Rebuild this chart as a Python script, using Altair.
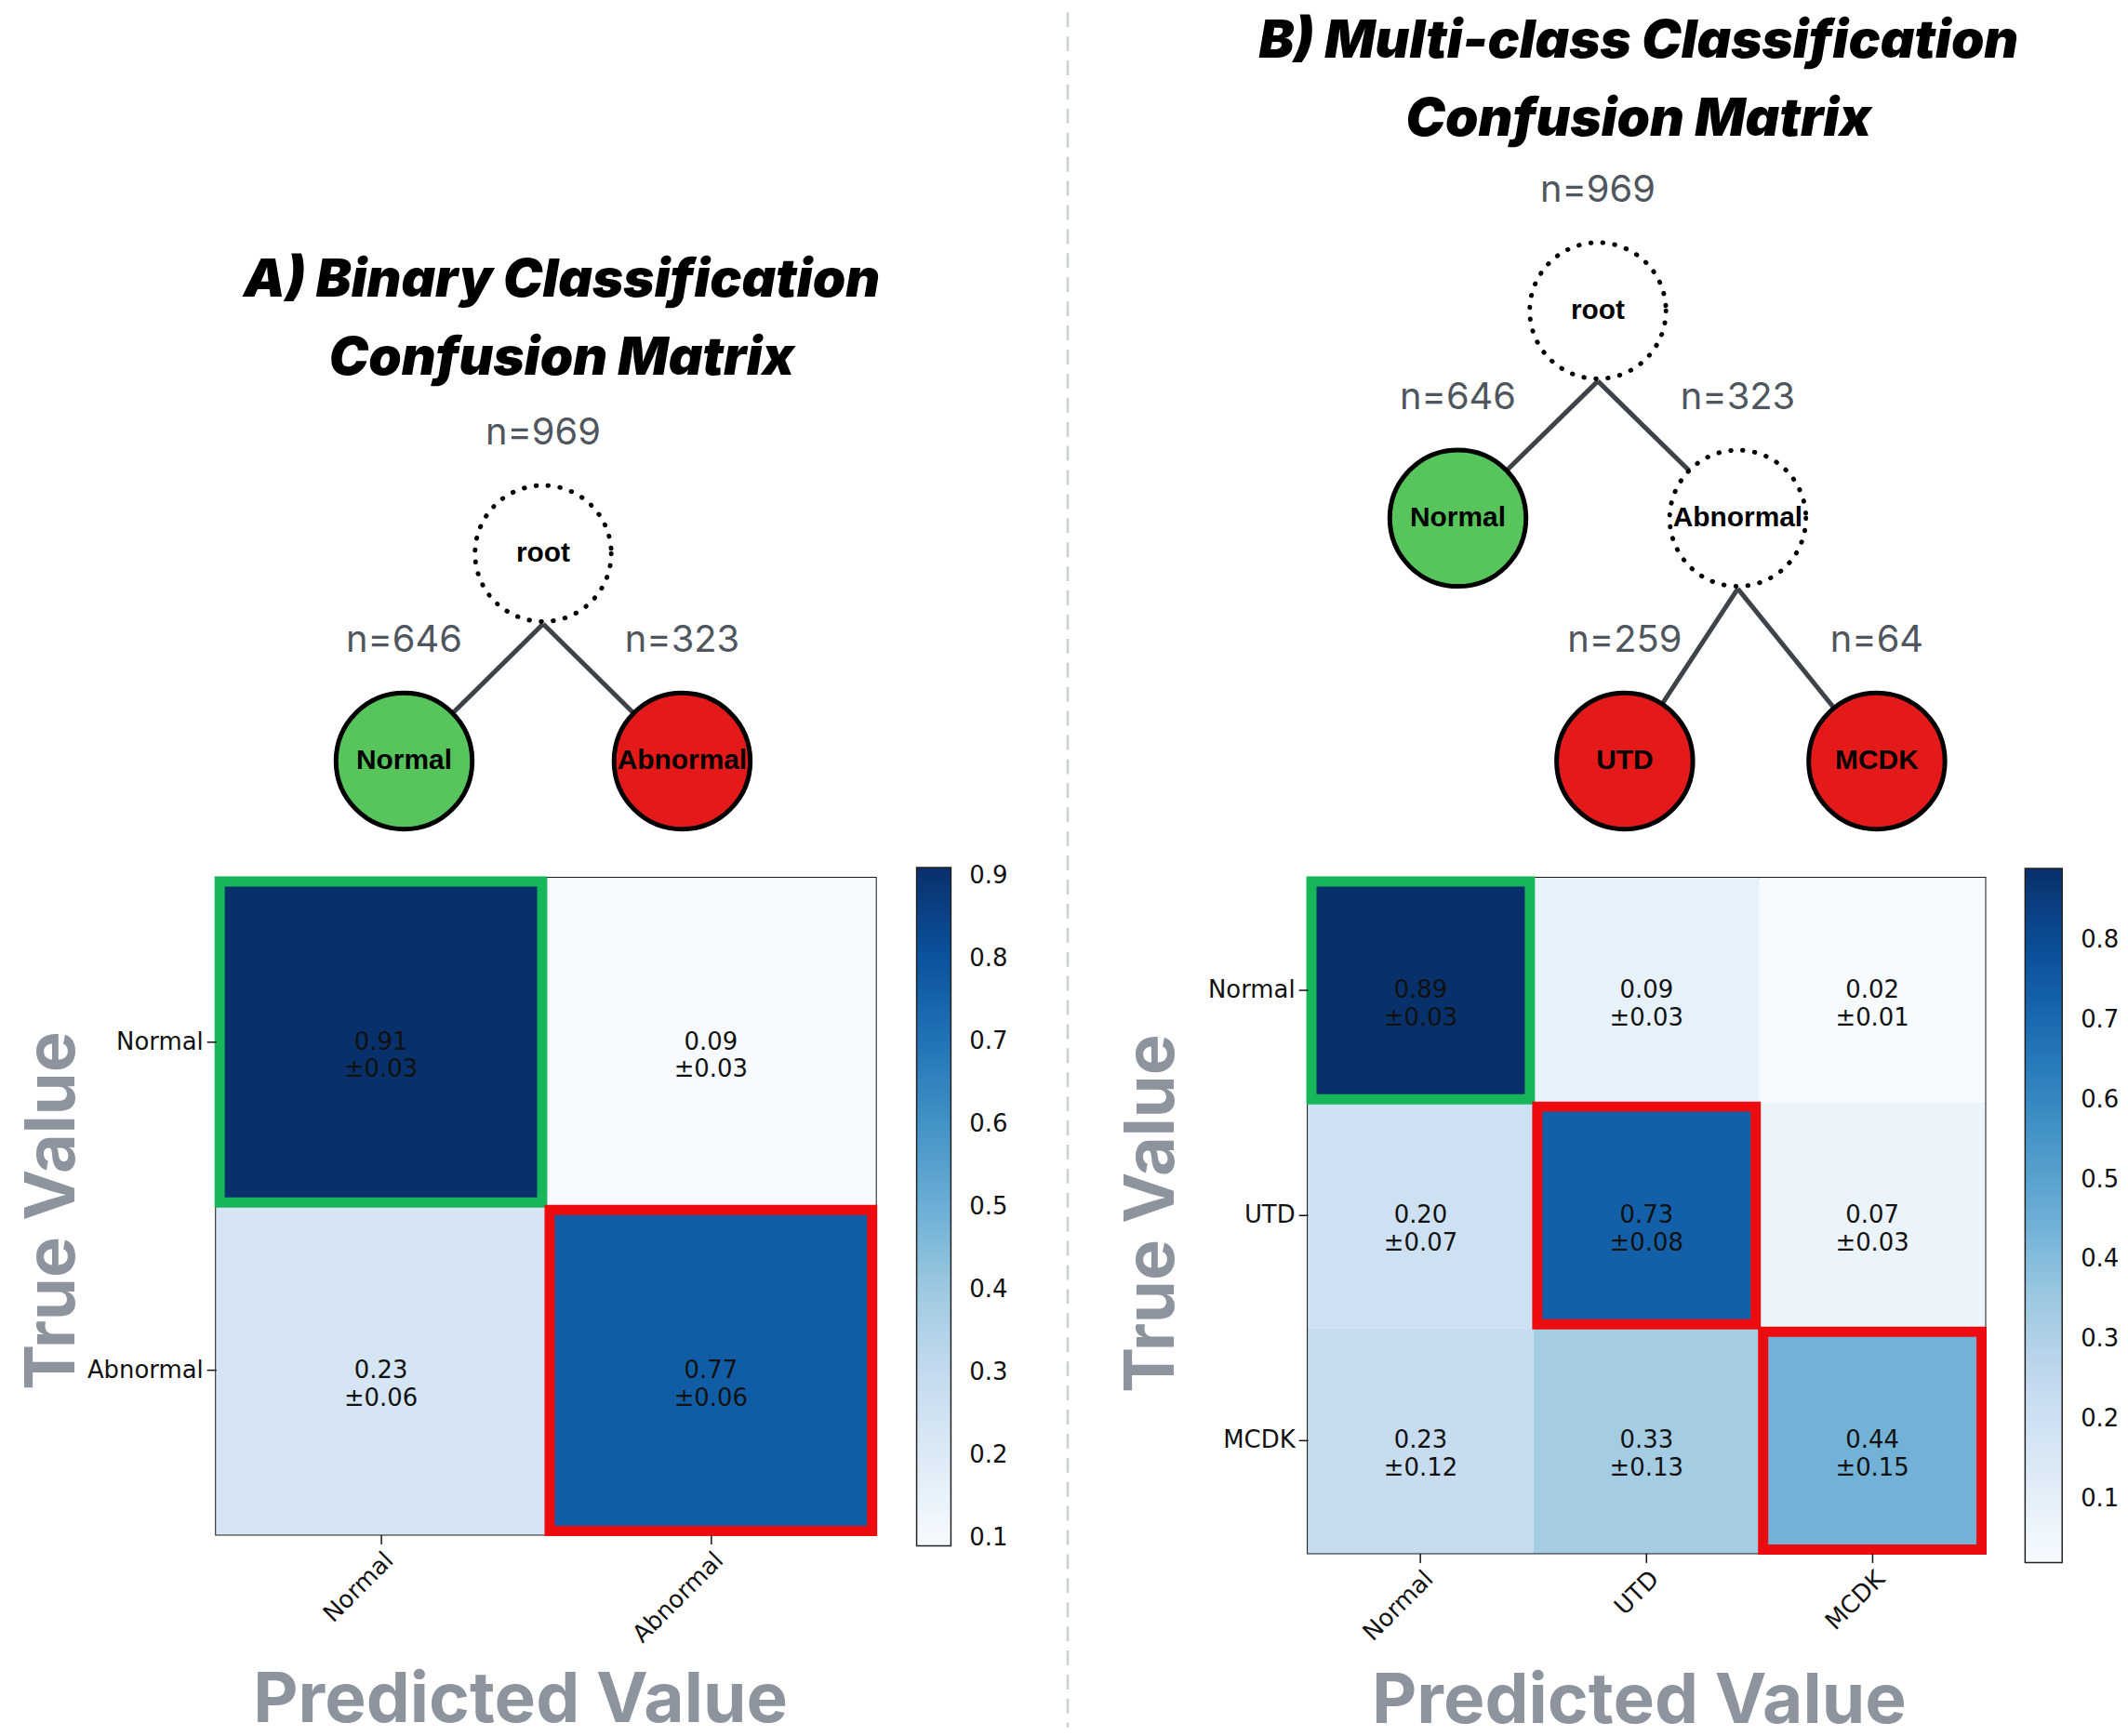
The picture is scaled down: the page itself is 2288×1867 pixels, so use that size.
import altair as alt
import pandas as pd

# ---------------- data ----------------
binary_labels = ["Normal", "Abnormal"]
binary_mean = [[0.91, 0.09],
               [0.23, 0.77]]
binary_std = [[0.03, 0.03],
              [0.06, 0.06]]

multi_labels = ["Normal", "UTD", "MCDK"]
multi_mean = [[0.89, 0.09, 0.02],
              [0.20, 0.73, 0.07],
              [0.23, 0.33, 0.44]]
multi_std = [[0.03, 0.03, 0.01],
             [0.07, 0.08, 0.03],
             [0.12, 0.13, 0.15]]

tree_a_nodes = ["root", "Normal", "Abnormal"]
tree_a_parent = [None, "root", "root"]
tree_a_n = [969, 646, 323]
tree_a_kind = ["split", "normal", "abnormal"]

tree_b_nodes = ["root", "Normal", "Abnormal", "UTD", "MCDK"]
tree_b_parent = [None, "root", "root", "Abnormal", "Abnormal"]
tree_b_n = [969, 646, 323, 259, 64]
tree_b_kind = ["split", "normal", "split", "abnormal", "abnormal"]

title_a = ["A) Binary Classification", "Confusion Matrix"]
title_b = ["B) Multi-class Classification", "Confusion Matrix"]

# matplotlib "Blues" colour stops
BLUES = ["#f7fbff", "#deebf7", "#c6dbef", "#9ecae1", "#6baed6",
         "#4292c6", "#2171b5", "#08519c", "#08306b"]

# ---------------- styles / layout ----------------
KIND_FILL = {"split": "white", "normal": "#58c45c", "abnormal": "#e41a1a"}
GREEN_HL = "#18b65a"
RED_HL = "#ec0c10"
R = 76  # node radius (px)

COL_A_W, COL_B_W = 712, 731
TREE_H = 914
HEAT_A_H, HEAT_B_H = 709, 729


def tree_frames(nodes, parents, ns, kinds, root_xy, level_gap, sib_gap, shift):
    children = {}
    for n, p in zip(nodes, parents):
        if p is not None:
            children.setdefault(p, []).append(n)
    info = {n: (c, k) for n, c, k in zip(nodes, ns, kinds)}
    pos = {}

    def place(node, x, y, depth):
        pos[node] = (x, y)
        kids = children.get(node, [])
        k = len(kids)
        for i, c in enumerate(kids):
            cx = x + shift[depth] + (i - (k - 1) / 2) * sib_gap[depth]
            place(c, cx, y + level_gap[depth], depth + 1)

    place(nodes[0], root_xy[0], root_xy[1], 0)
    node_rows, edge_rows = [], []
    for n, p in zip(nodes, parents):
        x, y = pos[n]
        cnt, kind = info[n]
        node_rows.append(dict(name=n, x=x, y=y, ny=y - 130, nlabel=f"n={cnt}",
                              fill=KIND_FILL[kind], dotted=(kind == "split")))
        if p is not None:
            px, py = pos[p]
            edge_rows.append(dict(x1=px, y1=py + R, x2=x, y2=y))
    return pd.DataFrame(node_rows), pd.DataFrame(edge_rows)


def tree_chart(nodes_df, edges_df, title_lines, title_xy, width, extra=None):
    xs = alt.Scale(domain=[0, width], range=[0, width], nice=False, zero=False)
    ys = alt.Scale(domain=[0, TREE_H], range=[0, TREE_H], nice=False, zero=False)
    tdf = pd.DataFrame(dict(t=title_lines,
                            x=[title_xy[0]] * len(title_lines),
                            y=[title_xy[1] + i * 84 for i in range(len(title_lines))]))
    title = alt.Chart(tdf).mark_text(font="Inter", fontSize=57, fontWeight=900,
                                     fontStyle="italic", color="black",
                                     align="center", baseline="middle").encode(
        x=alt.X("x:Q", scale=xs, axis=None), y=alt.Y("y:Q", scale=ys, axis=None), text="t:N")
    edges = alt.Chart(edges_df).mark_rule(stroke="#3d4349", strokeWidth=5).encode(
        x=alt.X("x1:Q", scale=xs, axis=None), y=alt.Y("y1:Q", scale=ys, axis=None),
        x2="x2:Q", y2="y2:Q")
    base = alt.Chart(nodes_df).encode(x=alt.X("x:Q", scale=xs, axis=None),
                                      y=alt.Y("y:Q", scale=ys, axis=None))
    solid = base.transform_filter("!datum.dotted").mark_point(
        shape="circle", size=(2 * R - 5) ** 2, filled=True, opacity=1, fillOpacity=1,
        stroke="black", strokeWidth=5, strokeOpacity=1).encode(
        fill=alt.Fill("fill:N", scale=None))
    dotted = base.transform_filter("datum.dotted").mark_point(
        shape="circle", size=(2 * R - 5) ** 2, filled=True, opacity=1, fillOpacity=1,
        fill="white", stroke="black", strokeWidth=5, strokeOpacity=1,
        strokeDash=[0.5, 12.5], strokeCap="round")
    labels = base.mark_text(font="Liberation Sans", fontWeight="bold", fontSize=30,
                            color="black", align="center", baseline="middle").encode(text="name:N")
    nlab = alt.Chart(nodes_df).mark_text(font="Inter", fontSize=40, color="#50565e",
                                         align="center", baseline="middle").encode(
        x=alt.X("x:Q", scale=xs, axis=None), y=alt.Y("ny:Q", scale=ys, axis=None),
        text="nlabel:N")
    layers = [title, nlab, edges, solid, dotted, labels]
    if extra is not None:
        layers = [extra] + layers
    return alt.layer(*layers).properties(width=width, height=TREE_H)


def heat_chart(labels, mean, std, width, height, legend_x, legend_y, grad_len,
               grad_thick, legend_values, ytitle_x, ytitle_y, xtitle_x, xtitle_y):
    rows = []
    for i, t in enumerate(labels):
        for j, p in enumerate(labels):
            hl = "none"
            if i == j:
                hl = GREEN_HL if t == "Normal" else RED_HL
            rows.append(dict(true=t, pred=p, value=mean[i][j],
                             label=f"{mean[i][j]:.2f}\n±{std[i][j]:.2f}", hl=hl))
    df = pd.DataFrame(rows)
    vals = [v for r in mean for v in r]
    lo, hi = min(vals), max(vals)
    stops = [lo + k * (hi - lo) / (len(BLUES) - 1) for k in range(len(BLUES))]
    band = alt.Scale(paddingInner=0, paddingOuter=0)
    xaxis = alt.Axis(title="Predicted Value", labelAngle=-45, labelAlign="right",
                     labelBaseline="top", labelFont="DejaVu Sans", labelFontSize=26,
                     labelColor="#111", labelPadding=4, labelOverlap=False,
                     tickSize=10, tickColor="#111", tickWidth=1.5, domain=False, grid=False,
                     titleFont="Inter", titleFontSize=75, titleFontWeight="bold",
                     titleColor="#8d949e", titleX=xtitle_x, titleY=xtitle_y,
                     titleAlign="center", titleBaseline="middle", titleAngle=0)
    yaxis = alt.Axis(title="True Value", labelAngle=0, labelFont="DejaVu Sans",
                     labelFontSize=26, labelColor="#111", labelPadding=4, labelOverlap=False,
                     tickSize=10, tickColor="#111", tickWidth=1.5, domain=False, grid=False,
                     titleFont="Inter", titleFontSize=74, titleFontWeight="bold",
                     titleColor="#8d949e", titleX=ytitle_x, titleY=ytitle_y,
                     titleAlign="center", titleBaseline="middle", titleAngle=270)
    base = alt.Chart(df).encode(
        x=alt.X("pred:N", sort=labels, scale=band, axis=xaxis),
        y=alt.Y("true:N", sort=labels, scale=band, axis=yaxis))
    rect = base.mark_rect().encode(
        color=alt.Color("value:Q", scale=alt.Scale(domain=stops, range=BLUES),
                        legend=alt.Legend(orient="none", legendX=legend_x, legendY=legend_y,
                                          direction="vertical", gradientLength=grad_len,
                                          gradientThickness=grad_thick, values=legend_values,
                                          format=".1f", labelFont="DejaVu Sans",
                                          labelFontSize=26, labelColor="#111",
                                          labelOffset=20, labelOverlap=False,
                                          gradientStrokeColor="#222",
                                          gradientStrokeWidth=1.5, title=None)))
    text = base.mark_text(font="DejaVu Sans", fontSize=26, lineHeight=30, lineBreak="\n",
                          color="#111", align="center", baseline="middle").encode(text="label:N")
    bw = 1 - 8 / (width / len(labels))
    bh = 1 - 8 / (height / len(labels))
    hl = base.transform_filter("datum.hl != 'none'").mark_rect(
        fillOpacity=0, strokeWidth=11, width=alt.RelativeBandSize(band=bw),
        height=alt.RelativeBandSize(band=bh)).encode(stroke=alt.Stroke("hl:N", scale=None))
    return alt.layer(rect, text, hl).properties(
        width=width, height=height,
        view=alt.ViewBackground(stroke="#1a1a1a", strokeWidth=2))


# ---------------- trees ----------------
na, ea = tree_frames(tree_a_nodes, tree_a_parent, tree_a_n, tree_a_kind,
                     root_xy=(353, 584), level_gap=[224], sib_gap=[300], shift=[0])
nb, eb = tree_frames(tree_b_nodes, tree_b_parent, tree_b_n, tree_b_kind,
                     root_xy=(313, 322), level_gap=[224, 262], sib_gap=[302, 272], shift=[0, 14])

divider = alt.Chart(pd.DataFrame({"d": [0]})).mark_rule(
    stroke="#c9cfd5", strokeWidth=2.5, strokeDash=[16, 10]).encode(
    x=alt.value(-259), y=alt.value(0), y2=alt.value(1851))

tree_a = tree_chart(na, ea, title_a, (373, 290), COL_A_W)
tree_b = tree_chart(nb, eb, title_b, (357, 32), COL_B_W, extra=divider)

heat_a = heat_chart(binary_labels, binary_mean, binary_std, COL_A_W, HEAT_A_H,
                    legend_x=756, legend_y=-11, grad_len=732, grad_thick=37,
                    legend_values=[0.1, 0.2, 0.3, 0.4, 0.5, 0.6, 0.7, 0.8, 0.9],
                    ytitle_x=-175, ytitle_y=359, xtitle_x=328, xtitle_y=179)
heat_b = heat_chart(multi_labels, multi_mean, multi_std, COL_B_W, HEAT_B_H,
                    legend_x=774, legend_y=-10, grad_len=749, grad_thick=40,
                    legend_values=[0.1, 0.2, 0.3, 0.4, 0.5, 0.6, 0.7, 0.8],
                    ytitle_x=-167, ytitle_y=362, xtitle_x=357, xtitle_y=160)

chart = alt.concat(tree_a, tree_b, heat_a, heat_b, columns=2,
                   spacing={"row": 20, "column": 466}, bounds="flush").resolve_scale(
    x="independent", y="independent", color="independent", fill="independent",
    stroke="independent").resolve_legend(color="independent").properties(
    padding={"left": 12, "top": 0, "right": 0, "bottom": 0},
    background="white").configure_view(strokeWidth=0)

chart.save("out.html", embed_options={"renderer": "svg", "actions": False})
